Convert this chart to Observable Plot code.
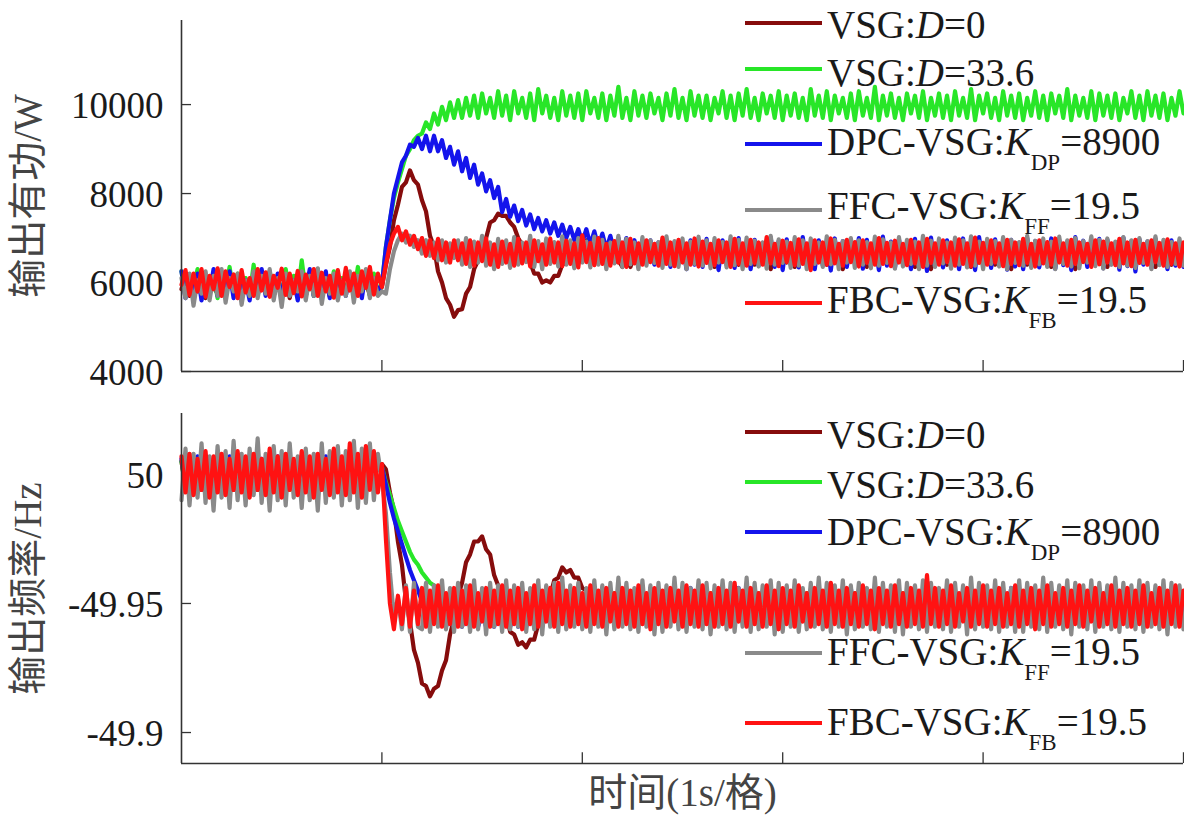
<!DOCTYPE html>
<html><head><meta charset="utf-8">
<script src="https://cdn.jsdelivr.net/npm/d3@7"></script>
<script src="https://cdn.jsdelivr.net/npm/@observablehq/plot@0.6"></script>
<style>
body{margin:0;background:#fff;}
#chart{position:relative;width:1184px;height:829px;overflow:hidden;background:#fff;}
#chart svg{display:block;}
.row{position:absolute;left:827px;font-family:'Liberation Serif','Times New Roman',serif;font-size:39px;line-height:40px;color:#1a1a1a;white-space:nowrap;}
.row sub{font-size:23px;line-height:0;vertical-align:-15px;}
.sw{position:absolute;left:745px;width:77px;height:4px;}
</style></head><body><div id="chart"></div>
<script>
// ---------------- data ----------------
const time = [
0,.02,.04,.06,.08,.1,.12,.14,.16,.18,
.2,.22,.24,.26,.28,.3,.32,.34,.36,.38,
.4,.42,.44,.46,.48,.5,.52,.54,.56,.58,
.6,.62,.64,.66,.68,.7,.72,.74,.76,.78,
.8,.82,.84,.86,.88,.9,.92,.94,.96,.98,
1,1.02,1.04,1.06,1.08,1.1,1.12,1.14,1.16,1.18,
1.2,1.22,1.24,1.26,1.28,1.3,1.32,1.34,1.36,1.38,
1.4,1.42,1.44,1.46,1.48,1.5,1.52,1.54,1.56,1.58,
1.6,1.62,1.64,1.66,1.68,1.7,1.72,1.74,1.76,1.78,
1.8,1.82,1.84,1.86,1.88,1.9,1.92,1.94,1.96,1.98,
2,2.02,2.04,2.06,2.08,2.1,2.12,2.14,2.16,2.18,
2.2,2.22,2.24,2.26,2.28,2.3,2.32,2.34,2.36,2.38,
2.4,2.42,2.44,2.46,2.48,2.5,2.52,2.54,2.56,2.58,
2.6,2.62,2.64,2.66,2.68,2.7,2.72,2.74,2.76,2.78,
2.8,2.82,2.84,2.86,2.88,2.9,2.92,2.94,2.96,2.98,
3,3.02,3.04,3.06,3.08,3.1,3.12,3.14,3.16,3.18,
3.2,3.22,3.24,3.26,3.28,3.3,3.32,3.34,3.36,3.38,
3.4,3.42,3.44,3.46,3.48,3.5,3.52,3.54,3.56,3.58,
3.6,3.62,3.64,3.66,3.68,3.7,3.72,3.74,3.76,3.78,
3.8,3.82,3.84,3.86,3.88,3.9,3.92,3.94,3.96,3.98,
4,4.02,4.04,4.06,4.08,4.1,4.12,4.14,4.16,4.18,
4.2,4.22,4.24,4.26,4.28,4.3,4.32,4.34,4.36,4.38,
4.4,4.42,4.44,4.46,4.48,4.5,4.52,4.54,4.56,4.58,
4.6,4.62,4.64,4.66,4.68,4.7,4.72,4.74,4.76,4.78,
4.8,4.82,4.84,4.86,4.88,4.9,4.92,4.94,4.96,4.98,
5];

const seriesNames = ["VSG:D=0","VSG:D=33.6","DPC-VSG:KDP=8900","FFC-VSG:KFF=19.5","FBC-VSG:KFB=19.5"];
const legendPrefix = ["VSG:","VSG:","DPC-VSG:","FFC-VSG:","FBC-VSG:"];
const legendVar = ["D","D","K","K","K"];
const legendSub = ["","","DP","FF","FB"];
const legendVal = ["=0","=33.6","=8900","=19.5","=19.5"];
const colors = ["#860c0c","#28e628","#1414ec","#8a8a8a","#ff1212"];

// 输出有功 (W)
const pDark = [
5850,6150,5700,6050,5800,6100,5650,6000,5900,5750,
6100,5700,6050,5850,6150,5680,6000,5800,6100,5720,
6050,5800,6150,5700,6000,5850,6100,5650,6050,5800,
6150,5700,6000,5850,6100,5750,6050,5680,6100,5800,
6000,5750,6150,5700,6050,5850,6000,5720,6100,5800,
5900,6400,6800,7400,7750,8150,8250,8520,8300,8200,
7850,7600,7050,6800,6250,6000,5650,5500,5230,5380,
5400,5750,5900,6300,6500,6900,7000,7350,7400,7550,
7500,7500,7350,7250,7000,6850,6550,6450,6200,6200,
6000,6050,6000,6150,6150,6400,6450,6700,6750,6900,
6900,6950,6950,6900,6750,6750,6600,6600,6450,6500,
6350,6550,6350,6600,6450,6700,6550,6800,6650,6850,
6650,6800,6550,6750,6450,6700,6600,6500,6750,6400,
6800,6500,6700,6350,6750,6550,6850,6450,6650,6400,
6750,6500,6800,6400,6700,6550,6850,6300,6700,6500,
6800,6450,6650,6350,6750,6550,6700,6400,6850,6500,
6700,6400,6800,6550,6650,6300,6750,6500,6800,6450,
6650,6350,6800,6550,6700,6450,6850,6400,6700,6500,
6800,6450,6650,6350,6750,6550,6700,6300,6800,6500,
6700,6400,6850,6550,6650,6450,6750,6350,6800,6500,
6650,6450,6800,6400,6700,6550,6750,6300,6650,6500,
6800,6400,6700,6550,6850,6450,6650,6350,6750,6500,
6700,6450,6800,6300,6650,6550,6750,6400,6800,6500,
6650,6350,6750,6550,6700,6450,6850,6400,6700,6500,
6800,6450,6650,6350,6750,6550,6700,6400,6800,6500,
6650];
const pGreen = [
6250,5750,6100,5850,6300,5700,6150,5800,6200,5650,
6100,5800,6350,5750,6200,5850,6100,5700,6400,5800,
6150,5750,6250,5850,6100,5700,6300,5800,6150,5750,
6500,5800,6200,5700,6300,5850,6150,5750,6250,5700,
6100,5800,6200,5750,6350,5850,6150,5700,6200,5800,
5950,6800,7400,7900,8250,8550,8850,9000,9200,9300,
9350,9600,9450,9800,9550,9950,9650,10050,9700,10100,
9700,10150,9750,10200,9700,10250,9800,10150,9700,10300,
9750,10200,9650,10300,9800,10150,9700,10250,9650,10350,
9800,10200,9700,10150,9650,10300,9750,10200,9700,10250,
9650,10300,9800,10150,9700,10250,9650,10200,9750,10400,
9700,10150,9650,10300,9750,10200,9700,10250,9800,10150,
9650,10250,9750,10350,9700,10150,9650,10300,9750,10200,
9700,10200,9650,10150,9800,10300,9700,10200,9650,10250,
9750,10350,9700,10150,9650,10250,9800,10200,9700,10300,
9650,10200,9750,10250,9700,10150,9650,10350,9750,10200,
9700,10300,9650,10200,9800,10150,9700,10250,9650,10300,
9750,10150,9700,10400,9650,10200,9750,10250,9700,10150,
9650,10250,9800,10200,9700,10300,9650,10150,9750,10250,
9700,10200,9650,10300,9750,10150,9700,10350,9650,10200,
9800,10250,9700,10150,9650,10300,9750,10200,9700,10250,
9650,10150,9750,10300,9700,10200,9650,10250,9800,10200,
9700,10350,9650,10200,9750,10150,9700,10300,9650,10250,
9750,10200,9700,10250,9650,10150,9800,10300,9700,10200,
9650,10300,9750,10200,9700,10250,9650,10150,9750,10300,
9800];
const pBlue = [
6250,5650,6100,5800,6200,5600,6050,5750,6300,5700,
6100,5800,6250,5650,6150,5850,6050,5600,6200,5750,
6300,5700,6100,5800,6200,5650,6150,5750,6050,5600,
6200,5800,6300,5700,6100,5850,6250,5650,6150,5750,
6050,5700,6200,5800,6100,5650,6250,5750,6100,5800,
5950,6800,7400,8000,8350,8700,8850,9100,9050,9250,
9000,9300,8950,9300,8950,9200,8800,9050,8650,8950,
8500,8800,8350,8650,8200,8450,8050,8300,7900,8150,
7580,7880,7480,7730,7380,7630,7280,7530,7200,7450,
7150,7400,7100,7350,7050,7300,7000,7250,6950,7200,
6900,7200,6850,7150,6800,7100,6750,7050,6700,7000,
6650,7000,6600,6950,6500,6900,6450,6950,6400,6900,
6400,6950,6350,6900,6450,6850,6300,6950,6400,6900,
6350,6980,6450,6900,6280,6950,6400,6870,6330,7000,
6420,6920,6300,6960,6380,6890,6450,7010,6350,6930,
6280,6970,6400,6900,6340,7020,6430,6880,6300,6950,
6390,6910,6270,6990,6420,6930,6350,6880,6440,7000,
6310,6960,6400,6900,6280,7030,6380,6920,6330,6970,
6430,6890,6300,6980,6400,6940,6260,7010,6370,6900,
6340,6950,6420,6880,6300,6990,6390,6930,6280,7020,
6410,6900,6330,6970,6440,6920,6290,6960,6360,6890,
6300,7000,6400,6930,6340,6880,6420,6990,6310,6950,
6390,6910,6280,7020,6400,6940,6350,6900,6430,6980,
6320,6960,6410,6890,6290,7010,6370,6930,6250,6970,
6400,6920,6330,6990,6420,6880,6300,6950,6380,6910,
6350];
const pGray = [
6100,5650,6200,5480,6050,5750,6250,5600,6150,5700,
6300,5550,6100,5800,6200,5500,6050,5700,6250,5650,
6150,5750,6300,5600,6100,5450,6200,5700,6050,5800,
6250,5600,6150,5700,6320,5520,6100,5750,6200,5600,
6050,5700,6250,5550,6150,5800,6300,5650,6100,5700,
5800,5750,6300,6700,6950,7100,6900,7050,6800,6950,
6650,6950,6600,6900,6500,6950,6450,6880,6550,6950,
6400,7000,6350,6920,6450,7050,6380,6900,6300,6980,
6420,6950,6330,7020,6400,6900,6460,7050,6350,6930,
6300,6990,6420,6910,6360,7040,6400,6950,6320,7000,
6450,6920,6340,7030,6400,6960,6300,6900,6430,7050,
6350,6980,6410,6900,6300,7020,6380,6950,6440,6910,
6330,7040,6400,6930,6350,6990,6300,6920,6420,7030,
6380,6950,6320,7000,6450,6910,6340,7040,6390,6960,
6300,7010,6420,6940,6360,6900,6310,7050,6400,6970,
6440,6920,6330,7020,6380,6950,6300,6990,6420,6900,
6350,7040,6410,6960,6300,6930,6450,7000,6330,6950,
6400,6910,6320,7030,6380,6970,6440,6900,6310,7020,
6360,6960,6420,6920,6300,7050,6380,6940,6350,6990,
6430,6900,6310,7010,6400,6950,6340,7040,6380,6920,
6300,6980,6420,6930,6360,7020,6300,6960,6440,6910,
6380,7050,6330,6940,6410,6990,6350,6920,6300,7030,
6420,6950,6360,7000,6320,6930,6450,7040,6370,6960,
6310,6990,6400,6920,6350,7020,6380,6950,6330,7000,
6440,6930,6300,7040,6390,6960,6350,6910,6420,6990,
6380];
const pRed = [
5950,6280,5720,6200,5800,6300,5680,6150,5850,6320,
5700,6250,5900,6180,5650,6280,5780,6100,5700,6300,
5820,6230,5680,6150,5880,6310,5720,6200,5760,6260,
5690,6180,5850,6300,5700,6220,5800,6150,5660,6280,
5750,6330,5820,6200,5700,6250,5880,6350,5730,6200,
5900,6400,6850,7100,7250,6950,7150,6850,7050,6750,
7000,6600,6950,6550,6980,6500,6900,6450,6950,6500,
6880,6420,6950,6380,6900,6480,6990,6400,6860,6350,
6920,6450,6870,6380,6980,6430,6900,6360,6950,6480,
6860,6400,6990,6450,6900,6370,6940,6420,6880,6340,
7060,6460,6890,6390,7000,6420,6870,6380,6930,6450,
6900,6350,6980,6430,6880,6400,6950,6460,6870,6380,
7010,6420,6900,6370,6960,6450,6880,6400,6990,6360,
6920,6440,6870,6390,6950,6460,6900,6350,6980,6420,
6880,6380,6960,6440,6900,6400,7020,6430,6870,6370,
6940,6460,6890,6390,6970,6420,6880,6280,6950,6450,
6900,6400,6990,6430,6870,6380,6960,6460,6910,6360,
6950,6440,6880,6400,7000,6420,6890,6370,6940,6450,
6870,6390,6960,6430,6900,6350,6980,6440,6880,6400,
6950,6460,6900,6380,6970,6420,6880,6360,7010,6440,
6890,6400,6950,6450,6880,6370,6960,6420,6900,6390,
6980,6440,6870,6360,6950,6430,6910,6400,6990,6450,
6880,6380,6960,6420,6900,6460,6870,6350,6950,6410,
6920,6450,6880,6390,6980,6430,6900,6370,6960,6440,
6870,6400,6950,6460,6890,6380,6970,6420,6880,6360,
6900];

// 输出频率 (Hz)
const fDark = [
50.005,49.995,50.006,49.996,50.004,49.994,50.006,49.995,50.005,49.996,
50.004,49.995,50.006,49.994,50.005,49.996,50.004,49.995,50.006,49.994,
50.005,49.996,50.004,49.995,50.006,49.994,50.005,49.996,50.004,49.995,
50.006,49.994,50.005,49.996,50.004,49.995,50.006,49.994,50.005,49.996,
50.004,49.995,50.006,49.994,50.005,49.996,50.004,49.995,50.006,50.003,
50.004,50.002,49.993,49.986,49.974,49.965,49.951,49.943,49.932,49.927,
49.919,49.918,49.914,49.917,49.918,49.924,49.928,49.938,49.944,49.953,
49.958,49.966,49.969,49.974,49.974,49.976,49.971,49.969,49.961,49.957,
49.949,49.946,49.939,49.938,49.934,49.935,49.933,49.936,49.936,49.942,
49.944,49.951,49.953,49.959,49.960,49.964,49.962,49.963,49.960,49.960,
49.956,49.955,49.950,49.950,49.946,49.947,49.945,49.948,49.947,49.951,
49.952,49.945,49.953,49.946,49.951,49.944,49.953,49.945,49.952,49.946,
49.953,49.944,49.952,49.946,49.954,49.945,49.951,49.944,49.953,49.946,
49.951,49.945,49.953,49.944,49.952,49.946,49.954,49.945,49.951,49.944,
49.953,49.946,49.952,49.944,49.951,49.945,49.953,49.946,49.952,49.944,
49.954,49.945,49.951,49.946,49.953,49.944,49.952,49.945,49.954,49.946,
49.951,49.944,49.953,49.945,49.952,49.946,49.951,49.944,49.953,49.945,
49.952,49.946,49.954,49.944,49.951,49.945,49.953,49.946,49.952,49.944,
49.953,49.945,49.951,49.946,49.954,49.944,49.952,49.945,49.951,49.946,
49.952,49.944,49.953,49.945,49.951,49.946,49.954,49.944,49.952,49.945,
49.954,49.946,49.952,49.944,49.953,49.945,49.951,49.946,49.953,49.944,
49.951,49.945,49.954,49.946,49.952,49.944,49.953,49.945,49.951,49.946,
49.953,49.944,49.952,49.945,49.954,49.946,49.951,49.944,49.953,49.945,
49.952,49.946,49.951,49.944,49.953,49.945,49.952,49.946,49.954,49.944,
49.951,49.945,49.953,49.946,49.952,49.944,49.954,49.945,49.951,49.946,
49.952];
const fGreen = [
50.005,49.995,50.006,49.994,50.005,49.996,50.007,49.995,50.005,49.994,
50.006,49.995,50.005,49.996,50.007,49.994,50.005,49.995,50.006,49.996,
50.005,49.994,50.007,49.995,50.005,49.996,50.006,49.994,50.005,49.995,
50.007,49.996,50.005,49.994,50.006,49.995,50.005,49.996,50.007,49.994,
50.005,49.995,50.006,49.996,50.005,49.994,50.007,49.995,50.006,50.004,
50.003,49.997,49.992,49.987,49.982,49.978,49.974,49.970,49.967,49.965,
49.962,49.960,49.958,49.957,49.955,49.952,49.950,49.948,49.953,49.945,
49.953,49.944,49.954,49.945,49.952,49.944,49.953,49.945,49.954,49.944,
49.952,49.945,49.953,49.944,49.954,49.945,49.952,49.944,49.953,49.945,
49.954,49.944,49.952,49.945,49.953,49.944,49.954,49.945,49.952,49.944,
49.953,49.945,49.954,49.944,49.952,49.945,49.953,49.944,49.954,49.945,
49.952,49.944,49.953,49.945,49.954,49.944,49.952,49.945,49.953,49.944,
49.954,49.945,49.952,49.944,49.953,49.945,49.954,49.944,49.952,49.945,
49.953,49.944,49.954,49.945,49.952,49.944,49.953,49.945,49.954,49.944,
49.952,49.945,49.953,49.944,49.954,49.945,49.952,49.944,49.953,49.945,
49.954,49.944,49.952,49.945,49.953,49.944,49.954,49.945,49.952,49.944,
49.953,49.945,49.954,49.944,49.952,49.945,49.953,49.944,49.954,49.945,
49.952,49.944,49.953,49.945,49.954,49.944,49.952,49.945,49.953,49.944,
49.954,49.945,49.952,49.944,49.953,49.945,49.954,49.944,49.952,49.945,
49.953,49.944,49.954,49.945,49.952,49.944,49.953,49.945,49.954,49.944,
49.952,49.945,49.953,49.944,49.954,49.945,49.952,49.944,49.953,49.945,
49.954,49.944,49.952,49.945,49.953,49.944,49.954,49.945,49.952,49.944,
49.953,49.945,49.954,49.944,49.952,49.945,49.953,49.944,49.954,49.945,
49.952,49.944,49.953,49.945,49.954,49.944,49.952,49.945,49.953,49.944,
49.954,49.945,49.952,49.944,49.953,49.945,49.954,49.944,49.952,49.945,
49.953];
const fBlue = [
50.006,49.995,50.005,49.994,50.007,49.996,50.005,49.994,50.006,49.995,
50.005,49.994,50.007,49.995,50.006,49.996,50.005,49.994,50.007,49.995,
50.006,49.996,50.005,49.994,50.007,49.995,50.006,49.996,50.005,49.994,
50.007,49.995,50.006,49.994,50.005,49.996,50.007,49.995,50.006,49.994,
50.005,49.996,50.007,49.995,50.006,49.994,50.005,49.996,50.007,50.004,
50.003,49.996,49.989,49.983,49.978,49.973,49.968,49.963,49.959,49.955,
49.951,49.948,49.946,49.944,49.943,49.946,49.941,49.947,49.941,49.948,
49.941,49.947,49.941,49.948,49.941,49.946,49.941,49.948,49.941,49.947,
49.941,49.948,49.941,49.946,49.941,49.947,49.941,49.948,49.941,49.946,
49.941,49.947,49.942,49.950,49.943,49.952,49.944,49.953,49.945,49.954,
49.943,49.955,49.944,49.953,49.942,49.956,49.944,49.954,49.943,49.955,
49.944,49.953,49.942,49.955,49.943,49.954,49.944,49.956,49.942,49.953,
49.943,49.955,49.944,49.954,49.942,49.953,49.943,49.956,49.944,49.954,
49.942,49.954,49.943,49.955,49.944,49.953,49.942,49.955,49.943,49.956,
49.944,49.953,49.942,49.956,49.943,49.954,49.944,49.955,49.942,49.953,
49.943,49.956,49.944,49.954,49.942,49.955,49.943,49.953,49.944,49.956,
49.942,49.954,49.943,49.955,49.944,49.953,49.942,49.956,49.943,49.954,
49.944,49.955,49.942,49.953,49.943,49.956,49.944,49.954,49.942,49.955,
49.943,49.953,49.944,49.956,49.942,49.954,49.943,49.955,49.944,49.953,
49.942,49.956,49.943,49.954,49.944,49.955,49.942,49.953,49.943,49.956,
49.944,49.954,49.942,49.955,49.943,49.953,49.944,49.956,49.942,49.954,
49.943,49.955,49.944,49.953,49.942,49.956,49.943,49.954,49.944,49.955,
49.942,49.953,49.943,49.956,49.944,49.954,49.942,49.955,49.943,49.953,
49.944,49.956,49.942,49.954,49.943,49.955,49.944,49.953,49.942,49.956,
49.943,49.954,49.944,49.955,49.942,49.953,49.943,49.956,49.944,49.954,
49.943];
const fGray = [
49.990,50.010,49.988,50.008,49.991,50.012,49.989,50.007,49.986,50.011,
49.991,50.009,49.987,50.013,49.990,50.008,49.988,50.010,49.992,50.014,
49.989,50.008,49.986,50.011,49.990,50.009,49.988,50.012,49.991,50.007,
49.987,50.010,49.990,50.008,49.986,50.012,49.989,50.009,49.991,50.011,
49.988,50.009,49.990,50.013,49.987,50.010,49.989,50.012,49.990,50.008,
49.998,49.985,49.962,49.945,49.952,49.940,49.957,49.939,49.958,49.941,
49.940,49.958,49.939,49.957,49.941,49.959,49.940,49.956,49.939,49.958,
49.941,49.957,49.939,49.959,49.940,49.956,49.938,49.958,49.941,49.957,
49.939,49.959,49.940,49.957,49.941,49.958,49.939,49.956,49.940,49.959,
49.938,49.957,49.941,49.958,49.939,49.960,49.940,49.957,49.941,49.958,
49.940,49.956,49.939,49.959,49.941,49.957,49.938,49.958,49.940,49.960,
49.941,49.958,49.940,49.956,49.939,49.959,49.941,49.957,49.938,49.958,
49.939,49.957,49.941,49.960,49.940,49.958,49.939,49.956,49.941,49.959,
49.940,49.958,49.938,49.957,49.941,49.959,49.940,49.958,49.939,49.956,
49.941,49.960,49.939,49.958,49.940,49.957,49.941,49.959,49.938,49.958,
49.939,49.957,49.941,49.959,49.939,49.956,49.940,49.958,49.941,49.960,
49.940,49.958,49.939,49.957,49.941,49.959,49.938,49.957,49.940,49.958,
49.941,49.956,49.940,49.960,49.939,49.958,49.941,49.957,49.939,49.959,
49.938,49.958,49.941,49.957,49.940,49.959,49.939,49.958,49.941,49.956,
49.940,49.959,49.939,49.958,49.941,49.957,49.938,49.960,49.940,49.958,
49.941,49.957,49.940,49.959,49.939,49.958,49.941,49.956,49.939,49.959,
49.939,49.958,49.941,49.957,49.940,49.960,49.939,49.958,49.941,49.957,
49.940,49.959,49.938,49.958,49.941,49.957,49.940,49.959,49.939,49.958,
49.941,49.957,49.940,49.960,49.939,49.958,49.941,49.957,49.940,49.959,
49.939,49.958,49.941,49.957,49.940,49.959,49.938,49.958,49.941,49.957,
49.940];
const fRed = [
50.007,49.993,50.008,49.992,50.006,49.994,50.009,49.991,50.007,49.993,
50.008,49.992,50.006,49.994,50.009,49.993,50.007,49.991,50.008,49.994,
50.006,49.992,50.010,49.993,50.007,49.991,50.008,49.994,50.006,49.992,
50.009,49.993,50.007,49.991,50.008,49.994,50.006,49.992,50.010,49.993,
50.007,49.992,50.012,49.993,50.008,49.991,50.011,49.994,50.009,49.993,
50.004,49.975,49.950,49.940,49.953,49.942,49.956,49.941,49.955,49.942,
49.956,49.941,49.955,49.942,49.957,49.941,49.954,49.942,49.956,49.941,
49.955,49.942,49.957,49.941,49.954,49.943,49.956,49.941,49.955,49.942,
49.957,49.941,49.955,49.942,49.956,49.940,49.954,49.942,49.957,49.941,
49.955,49.943,49.956,49.941,49.958,49.942,49.955,49.941,49.956,49.942,
49.954,49.941,49.957,49.942,49.955,49.941,49.956,49.943,49.954,49.941,
49.956,49.942,49.955,49.941,49.957,49.942,49.954,49.940,49.956,49.942,
49.955,49.941,49.956,49.943,49.955,49.941,49.957,49.942,49.955,49.941,
49.957,49.942,49.954,49.941,49.956,49.942,49.955,49.941,49.958,49.943,
49.955,49.941,49.956,49.942,49.954,49.941,49.957,49.942,49.955,49.940,
49.956,49.942,49.955,49.941,49.957,49.943,49.954,49.941,49.956,49.942,
49.955,49.941,49.958,49.942,49.955,49.941,49.956,49.942,49.954,49.941,
49.957,49.942,49.955,49.940,49.956,49.942,49.955,49.941,49.957,49.942,
49.954,49.941,49.956,49.942,49.955,49.941,49.961,49.942,49.956,49.941,
49.955,49.942,49.957,49.941,49.954,49.943,49.956,49.941,49.955,49.942,
49.957,49.941,49.955,49.942,49.956,49.941,49.954,49.942,49.957,49.941,
49.955,49.942,49.956,49.940,49.955,49.942,49.957,49.941,49.954,49.942,
49.956,49.941,49.955,49.942,49.957,49.941,49.955,49.943,49.956,49.941,
49.954,49.942,49.957,49.941,49.955,49.942,49.956,49.941,49.955,49.942,
49.957,49.941,49.954,49.942,49.956,49.941,49.955,49.942,49.957,49.941,
49.955];

const xTicks = [1,2,3,4,5];
const pTicks = [4000,6000,8000,10000];
const pTickText = ["4000","6000","8000","10000"];
const fTicks = [49.9,49.95,50];
const fTickText = ["-49.9","-49.95","50"];
const pLabel = "输出有功/W";
const fLabel = "输出频率/Hz";
const xLabel = "时间(1s/格)";

// ---------------- drawing ----------------
const FONT = "'Liberation Serif','Noto Sans CJK SC',serif";
const AX = "#333";

function panel({series, yDomain, yTicks, yTickText, yLabel, height, marginTop, marginBottom, bottomLabel}) {
  const [y0, y1] = yDomain;
  const xTickLen = (y1 - y0) * 0.031;
  const marks = [
    Plot.ruleY(yTicks, {x1: 0, x2: 0.05, stroke: AX, strokeWidth: 1.3}),
    Plot.ruleX(xTicks, {y1: y0, y2: y0 + xTickLen, stroke: AX, strokeWidth: 1.3}),
    ...series.map((vals, k) => Plot.line(time.map((t, i) => ({t, v: vals[i]})), {
      x: "t", y: "v", stroke: colors[k], strokeWidth: 4.2, strokeLinejoin: "round"
    })),
    Plot.ruleX([0], {stroke: AX, strokeWidth: 1.6}),
    Plot.ruleY([y0], {stroke: AX, strokeWidth: 1.6}),
    Plot.axisY({ticks: yTicks, tickFormat: d => yTickText[yTicks.indexOf(d)], tickSize: 0, tickPadding: 18,
      fontSize: 37, fill: "#1a1a1a", dy: 2, label: null}),
    Plot.text([yLabel], {frameAnchor: "left", textAnchor: "middle", rotate: -90, dx: -153, fontSize: 39, fill: "#444"})
  ];
  if (bottomLabel) marks.push(Plot.text([bottomLabel], {frameAnchor: "bottom", textAnchor: "middle", dy: 42, fontSize: 39, fill: "#444"}));
  return Plot.plot({
    width: 1184, height, marginLeft: 181, marginRight: 1, marginTop, marginBottom,
    x: {domain: [0, 5], axis: null},
    y: {domain: yDomain},
    style: {fontFamily: FONT, background: "white", overflow: "visible"},
    marks
  });
}

const chart = document.getElementById("chart");
chart.append(panel({
  series: [pDark, pGreen, pBlue, pGray, pRed], yDomain: [4000, 11890],
  yTicks: pTicks, yTickText: pTickText, yLabel: pLabel,
  height: 392, marginTop: 20, marginBottom: 21
}));
chart.append(panel({
  series: [fDark, fGreen, fBlue, fGray, fRed], yDomain: [49.888, 50.0236],
  yTicks: fTicks, yTickText: fTickText, yLabel: fLabel,
  height: 437, marginTop: 21, marginBottom: 66, bottomLabel: xLabel
}));

// legends (inside each panel, right side)
const legendLayout = [
  {lines: [23, 69, 144, 210, 303], caps: [24.5, 73, 141.5, 206, 299.5]},
  {lines: [432, 482, 532, 653, 723], caps: [435, 485, 532, 652, 722]}
];
legendLayout.forEach(L => {
  seriesNames.forEach((name, k) => {
    const sw = document.createElement("div");
    sw.className = "sw";
    sw.style.top = (L.lines[k] - 2) + "px";
    sw.style.background = colors[k];
    chart.append(sw);
    const row = document.createElement("div");
    row.className = "row";
    row.style.top = (L.caps[k] - 20) + "px";
    row.setAttribute("aria-label", name);
    row.innerHTML = legendPrefix[k] + "<i>" + legendVar[k] + "</i>" +
      (legendSub[k] ? "<sub>" + legendSub[k] + "</sub>" : "") + legendVal[k];
    chart.append(row);
  });
});
</script></body></html>
